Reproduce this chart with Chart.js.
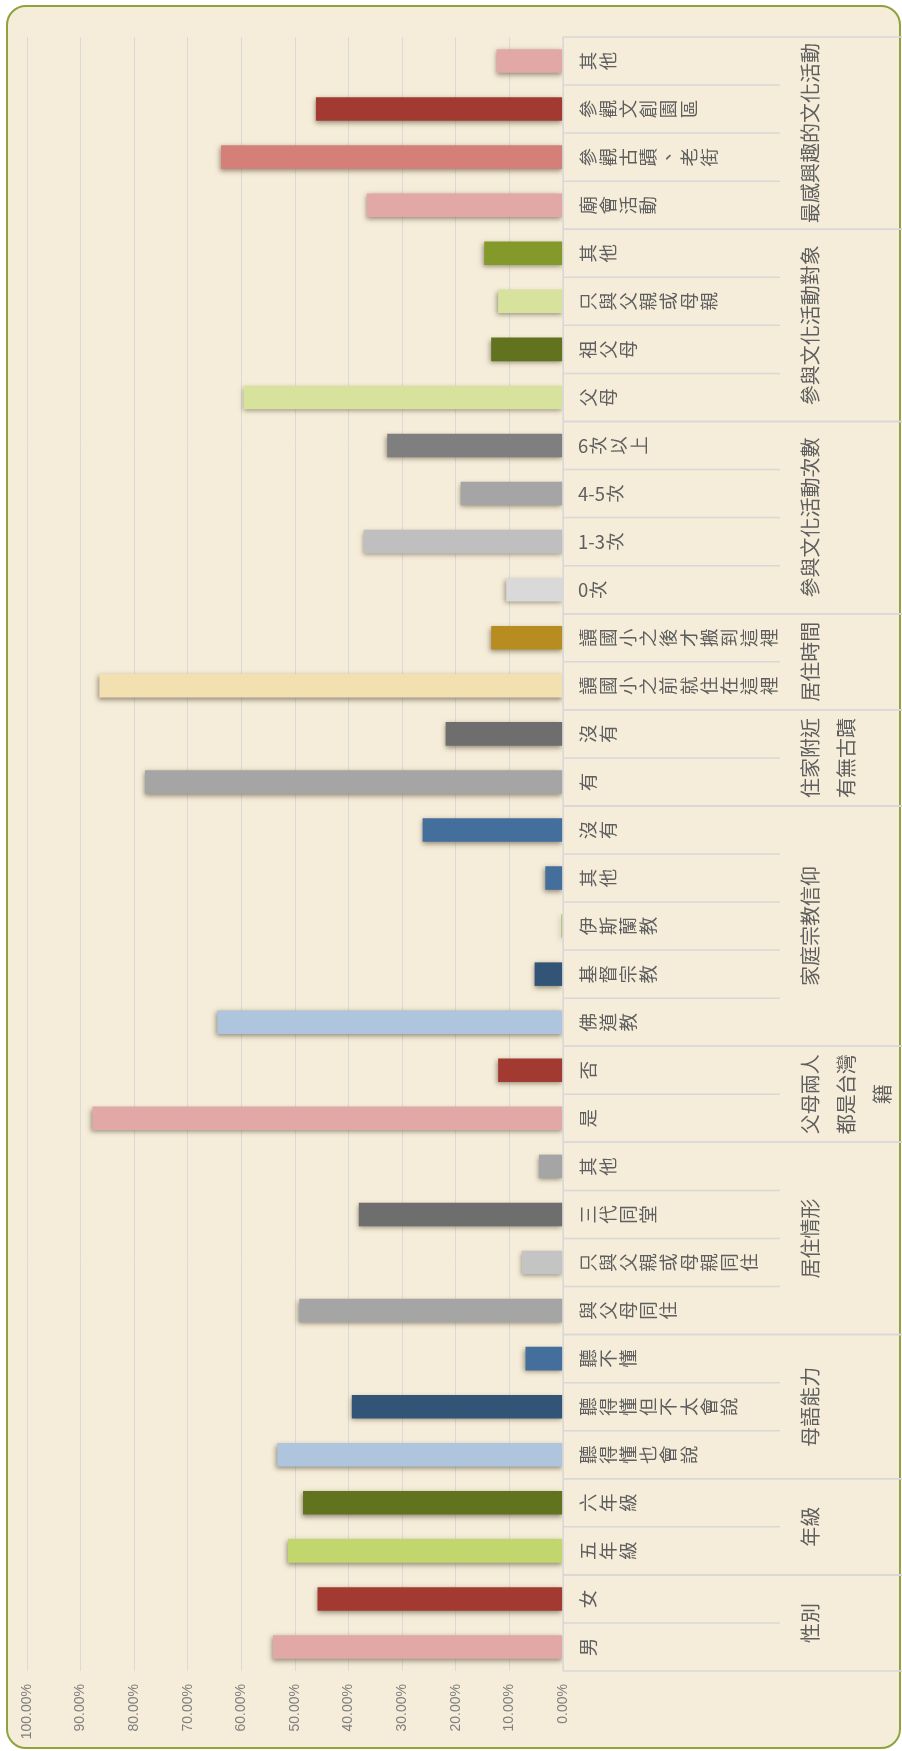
<!DOCTYPE html>
<html>
<head>
<meta charset="utf-8">
<script src="https://cdn.jsdelivr.net/npm/chart.js@4.4.1/dist/chart.umd.min.js"></script>
<style>
  html, body { margin: 0; padding: 0; background: #ffffff; }
  #frame {
    position: absolute; left: 6px; top: 5px; width: 891px; height: 1740px;
    background: #f5edd9; border: 2px solid #8ea33b; border-radius: 20px;
  }
  #chartBox { position: absolute; left: 0; top: 0; }
</style>
</head>
<body>
<div id="frame"></div>
<canvas id="chartBox" width="902" height="1751"></canvas>
<script>
// categories listed top to bottom as they appear in the picture
const categories = [
    '其他', '參觀文創園區', '參觀古蹟、老街', '廟會活動',
    '其他', '只與父親或母親', '祖父母', '父母',
    '6次以上', '4-5次', '1-3次', '0次',
    '讀國小之後才搬到這裡', '讀國小之前就住在這裡',
    '沒有', '有',
    '沒有', '其他', '伊斯蘭教', '基督宗教', '佛道教',
    '否', '是',
    '其他', '三代同堂', '只與父親或母親同住', '與父母同住',
    '聽不懂', '聽得懂但不太會說', '聽得懂也會說',
    '六年級', '五年級',
    '女', '男'
];

const percentages = [
    12.4, 46.1, 63.8, 36.6,
    14.7, 12.1, 13.4, 59.6,
    32.8, 19.1, 37.2, 10.6,
    13.4, 86.5,
    21.9, 78.0,
    26.2, 3.3, 0.3, 5.3, 64.5,
    12.1, 87.8,
    4.5, 38.1, 7.7, 49.2,
    7.0, 39.4, 53.3,
    48.5, 51.3,
    45.8, 54.1
];

const barColors = [
    '#e2a8a6', '#a23a32', '#d47f78', '#e2a8a6',
    '#839a2b', '#d7e39c', '#627320', '#d7e39c',
    '#7f7f7f', '#a5a5a5', '#bfbfbf', '#d9d9d9',
    '#b78d21', '#f2e0b1',
    '#6e6e6e', '#a5a5a5',
    '#446f9c', '#446f9c', '#9bbb59', '#325477', '#aec5dd',
    '#a23a32', '#e2a8a6',
    '#a5a5a5', '#6e6e6e', '#c4c4c4', '#a5a5a5',
    '#446f9c', '#325477', '#aec5dd',
    '#627320', '#c2d66e',
    '#a23a32', '#e2a8a6'
];

const groupNames = [
    '最感興趣的文化活動', '參與文化活動對象', '參與文化活動次數', '居住時間',
    '住家附近\n有無古蹟', '家庭宗教信仰', '父母兩人\n都是台灣\n籍', '居住情形',
    '母語能力', '年級', '性別'
];
const groupSizes = [4, 4, 4, 2, 2, 5, 2, 4, 3, 2, 2];

const valueTicks = [0, 10, 20, 30, 40, 50, 60, 70, 80, 90, 100];

const cjkFont = '"Noto Sans CJK TC", "Noto Sans CJK SC", sans-serif';

// bar shadow like the office style
const barShadow = {
    id: 'barShadow',
    beforeDatasetsDraw(chart) {
        const c = chart.ctx;
        c.save();
        c.shadowColor = 'rgba(70, 60, 40, 0.55)';
        c.shadowBlur = 5;
        c.shadowOffsetX = -1;
        c.shadowOffsetY = 2;
    },
    afterDatasetsDraw(chart) {
        chart.ctx.restore();
    }
};

// labels drawn like stacked vertical text turned on its side
function drawSideways(ctx, text, x, cy, adv) {
    let cx = x;
    for (const ch of text) {
        if (/[\x00-\x7f]/.test(ch)) {
            ctx.textAlign = 'left';
            ctx.fillText(ch, cx, cy);
            cx += ctx.measureText(ch).width;
        } else {
            ctx.save();
            ctx.translate(cx + adv / 2, cy);
            ctx.rotate(-Math.PI / 2);
            ctx.textAlign = 'center';
            ctx.fillText(ch, 0, 0);
            ctx.restore();
            cx += adv;
        }
    }
}

const categoryAxis = {
    id: 'categoryAxis',
    afterDraw(chart) {
        const ctx = chart.ctx;
        const yScale = chart.scales.y;
        const area = chart.chartArea;
        const step = yScale.getPixelForValue(1) - yScale.getPixelForValue(0);
        const axisX = area.right;
        const innerEnd = axisX + 217;
        const outerEnd = 902;

        ctx.save();
        ctx.strokeStyle = '#d8d8d8';
        ctx.lineWidth = 1.5;
        ctx.beginPath();
        ctx.moveTo(axisX, area.top);
        ctx.lineTo(axisX, area.bottom);
        ctx.stroke();

        let idx = 0;
        groupSizes.forEach((size, gi) => {
            const gTop = yScale.getPixelForValue(idx) - step / 2;
            const gBot = yScale.getPixelForValue(idx + size - 1) + step / 2;
            ctx.strokeStyle = '#d8d8d8';
            ctx.beginPath();
            ctx.moveTo(axisX, gTop);
            ctx.lineTo(outerEnd, gTop);
            ctx.moveTo(axisX, gBot);
            ctx.lineTo(outerEnd, gBot);
            for (let k = 1; k < size; k++) {
                const yy = yScale.getPixelForValue(idx + k) - step / 2;
                ctx.moveTo(axisX, yy);
                ctx.lineTo(innerEnd, yy);
            }
            ctx.stroke();

            // group title, rotated
            ctx.fillStyle = '#5f5f5f';
            ctx.font = '20px ' + cjkFont;
            ctx.textBaseline = 'middle';
            const mid = (gTop + gBot) / 2;
            groupNames[gi].split('\n').forEach((line, li) => {
                ctx.save();
                ctx.translate(axisX + 247 + li * 36, mid);
                ctx.rotate(-Math.PI / 2);
                ctx.textAlign = 'center';
                ctx.fillText(line, 0, 0);
                ctx.restore();
            });
            idx += size;
        });

        ctx.fillStyle = '#5f5f5f';
        ctx.font = '18.5px ' + cjkFont;
        ctx.textBaseline = 'middle';
        categories.forEach((name, i) => {
            drawSideways(ctx, name, axisX + 15, yScale.getPixelForValue(i), 20.1);
        });
        ctx.restore();
    }
};

new Chart(document.getElementById('chartBox'), {
    type: 'bar',
    data: {
        labels: categories,
        datasets: [{
            data: percentages,
            backgroundColor: barColors,
            borderWidth: 0,
            categoryPercentage: 1,
            barPercentage: 0.49
        }]
    },
    options: {
        indexAxis: 'y',
        responsive: false,
        maintainAspectRatio: false,
        animation: false,
        layout: {
            padding: { left: 27, right: 339, top: 37, bottom: 0 }
        },
        plugins: {
            legend: { display: false },
            tooltip: { enabled: false }
        },
        scales: {
            x: {
                reverse: true,
                min: 0,
                max: 100,
                afterBuildTicks(scale) {
                    scale.ticks = valueTicks.map(v => ({ value: v }));
                },
                afterFit(scale) {
                    scale.height = 80;
                },
                ticks: {
                    autoSkip: false,
                    minRotation: 90,
                    maxRotation: 90,
                    padding: 13,
                    color: '#7f7f7f',
                    font: { family: '"Liberation Sans", Arial, sans-serif', size: 14 },
                    callback: (v) => Number(v).toFixed(2) + '%'
                },
                grid: {
                    color: '#dcdad6',
                    drawTicks: false
                },
                border: { display: false }
            },
            y: {
                display: false
            }
        }
    },
    plugins: [barShadow, categoryAxis]
});
</script>
</body>
</html>
